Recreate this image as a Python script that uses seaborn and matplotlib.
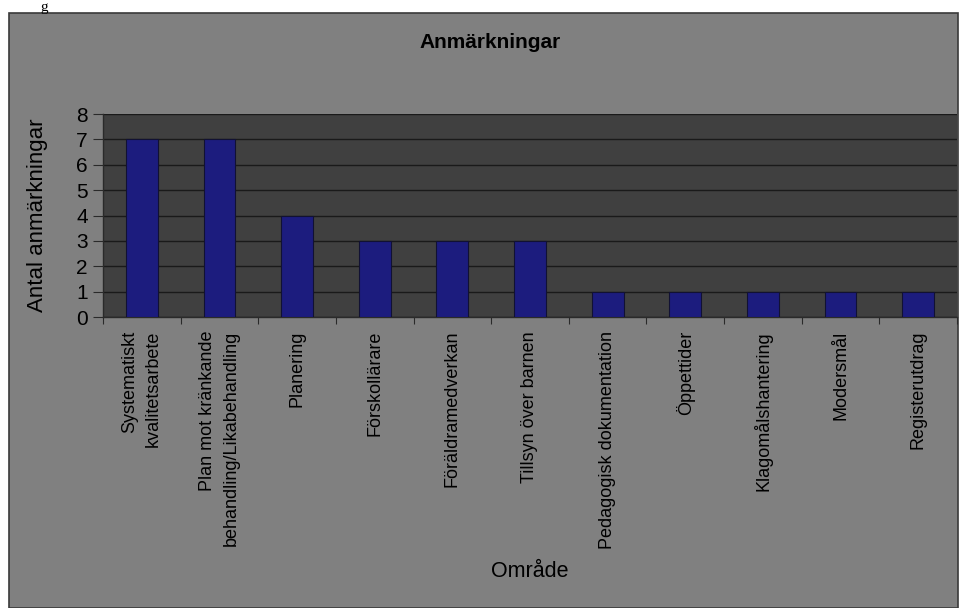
import numpy as np
import pandas as pd
import matplotlib
matplotlib.use("Agg")
import matplotlib.pyplot as plt
import matplotlib.patches as patches
import seaborn as sns

# data
omraden = ["Systematiskt\nkvalitetsarbete", "Plan mot kränkande\nbehandling/Likabehandling",
           "Planering", "Förskollärare", "Föräldramedverkan", "Tillsyn över barnen",
           "Pedagogisk dokumentation", "Öppettider", "Klagomålshantering",
           "Modersmål", "Registerutdrag"]
antal = [7, 7, 4, 3, 3, 3, 1, 1, 1, 1, 1]
y_ticks = [0, 1, 2, 3, 4, 5, 6, 7, 8]

df = pd.DataFrame({"omrade": omraden, "antal": antal})

sns.set_theme(style="white")
plt.rcParams['font.family'] = ['Liberation Sans', 'DejaVu Sans']

fig = plt.figure(figsize=(9.61, 6.08), dpi=100, facecolor='white')

# grey chart area like the Excel chart
bg = patches.Rectangle((9 / 961, 0), (958 - 9) / 961, (608 - 13) / 608,
                       transform=fig.transFigure, facecolor='#808080',
                       edgecolor='#3a3a3a', linewidth=1.2, zorder=-5)
fig.add_artist(bg)

ax = fig.add_axes([103 / 961, 1 - 317 / 608, (957 - 103) / 961, (317 - 114) / 608])
ax.set_facecolor('#404040')

sns.barplot(data=df, x="omrade", y="antal", color='#1c1c7e', saturation=1,
            width=0.41, edgecolor='#111133', linewidth=0.8, ax=ax, zorder=3)

ax.set_ylim(0, 8)
ax.set_xlim(-0.5, len(omraden) - 0.5)
ax.set_yticks(y_ticks)
ax.yaxis.grid(True, color='#1a1a1a', linewidth=1.0, zorder=0)
ax.set_axisbelow(True)

for s in ['top', 'right']:
    ax.spines[s].set_visible(False)
for s in ['left', 'bottom']:
    ax.spines[s].set_color('#2a2a2a')
    ax.spines[s].set_linewidth(1.0)

ax.tick_params(axis='y', which='major', direction='out', length=7, width=0.8,
               color='#2a2a2a', labelsize=15, labelcolor='black', left=True, pad=4)
ax.set_xticks(range(len(omraden)))
ax.set_xticklabels(omraden, rotation=90, ha='center', va='top',
                   multialignment='right', linespacing=1.5, fontsize=13, color='black')
ax.tick_params(axis='x', which='major', length=0, pad=10)
ax.set_xticks(np.arange(-0.5, len(omraden), 1), minor=True)
ax.tick_params(axis='x', which='minor', direction='out', length=5, width=0.8,
               color='#2a2a2a', bottom=True)

ax.set_ylabel("Antal anmärkningar", fontsize=16, color='black')
ax.yaxis.set_label_coords(-0.064, 0.5)
ax.set_xlabel("Område", fontsize=15.5, color='black', va='center')
ax.xaxis.set_label_coords(0.5, -1.256)

fig.text(490 / 961, 1 - 42 / 608, "Anmärkningar", fontsize=15, fontweight='bold',
         ha='center', va='center', color='black')

# fragment of the surrounding document text
fig.text(40 / 961, 1 - 1 / 608, "g", fontsize=11, family='Liberation Serif',
         ha='left', va='top', color='black')

fig.savefig("out.png", dpi=100, facecolor='white')
